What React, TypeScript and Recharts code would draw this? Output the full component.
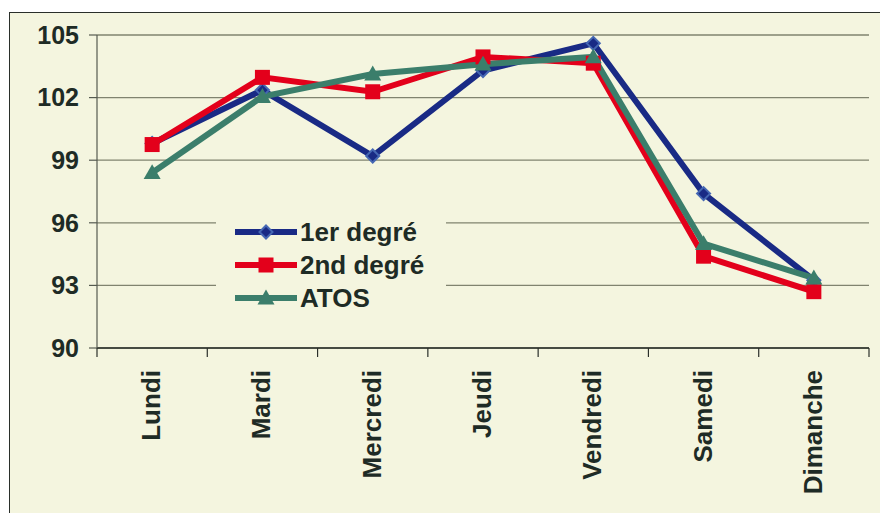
import React from 'react';
import { LineChart, Line, XAxis, YAxis, CartesianGrid, Legend } from 'recharts';

const days = ['Lundi', 'Mardi', 'Mercredi', 'Jeudi', 'Vendredi', 'Samedi', 'Dimanche'];
const premierDegre = [99.8, 102.36, 99.2, 103.3, 104.6, 97.4, 93.25];
const secondDegre = [99.75, 102.97, 102.28, 103.95, 103.65, 94.4, 92.7];
const atos = [98.4, 102.05, 103.13, 103.6, 103.95, 95.0, 93.35];
const yTicks = [90, 93, 96, 99, 102, 105];

const seriesNames = ['1er degré', '2nd degré', 'ATOS'];

const data = days.map((d, i) => ({
  day: d,
  s1: premierDegre[i],
  s2: secondDegre[i],
  s3: atos[i],
}));

const W = 880;
const H = 513;
const M_TOP = 35;
const M_RIGHT = 11;
const Y_W = 97;
const X_H = 165;
const PLOT_W = W - M_RIGHT - Y_W;
const BAND = PLOT_W / days.length;
const AXIS_Y = H - X_H;

const BG = '#F4F5DF';
const TEXT = '#1E2B25';
const FONT = '"Liberation Sans", Arial, sans-serif';
const NAVY = '#192a85';
const NAVY_EDGE = '#4567b3';
const RED = '#E3001B';
const GREEN = '#3B7E6B';
const GRID = '#80836f';
const AXIS = '#2a2f2a';

const Diamond = ({ cx, cy }: any) => {
  if (cx == null || cy == null) return null;
  const r = 6.5;
  return (
    <polygon
      points={`${cx},${cy - r} ${cx + r},${cy} ${cx},${cy + r} ${cx - r},${cy}`}
      fill={NAVY}
      stroke={NAVY_EDGE}
      strokeWidth={2}
    />
  );
};

const Square = ({ cx, cy }: any) => {
  if (cx == null || cy == null) return null;
  const r = 7.5;
  return <rect x={cx - r} y={cy - r} width={r * 2} height={r * 2} fill={RED} />;
};

const Triangle = ({ cx, cy }: any) => {
  if (cx == null || cy == null) return null;
  const r = 8.5;
  return (
    <polygon
      points={`${cx},${cy - r} ${cx + r},${cy + r * 0.75} ${cx - r},${cy + r * 0.75}`}
      fill={GREEN}
    />
  );
};

const markers = [Diamond, Square, Triangle];
const colors = [NAVY, RED, GREEN];

const XTick = (props: any) => {
  const { x, payload, index } = props;
  return (
    <g>
      <line x1={x - BAND / 2} x2={x - BAND / 2} y1={AXIS_Y} y2={AXIS_Y + 9} stroke={AXIS} strokeWidth={1.2} />
      {index === days.length - 1 && (
        <line x1={x + BAND / 2} x2={x + BAND / 2} y1={AXIS_Y} y2={AXIS_Y + 9} stroke={AXIS} strokeWidth={1.2} />
      )}
      <text
        transform={`translate(${x - 1},${AXIS_Y + 22}) rotate(-90)`}
        textAnchor="end"
        dominantBaseline="central"
        fill={TEXT}
        fontFamily={FONT}
        fontWeight="bold"
        fontSize={26}
      >
        {payload.value}
      </text>
    </g>
  );
};

const LegendContent = () => (
  <div style={{ background: BG, width: 230, height: 100, position: 'relative' }}>
    {seriesNames.map((name, i) => {
      const M = markers[i];
      return (
        <div
          key={name}
          style={{
            position: 'absolute',
            left: 19,
            top: 12 + i * 33,
            height: 30,
            display: 'flex',
            alignItems: 'center',
          }}
        >
          <svg width={62} height={20} style={{ display: 'block' }}>
            <line x1={0} x2={62} y1={10} y2={10} stroke={colors[i]} strokeWidth={6} />
            <M cx={31} cy={10} />
          </svg>
          <span
            style={{
              marginLeft: 3,
              fontFamily: FONT,
              fontWeight: 'bold',
              fontSize: 26,
              color: TEXT,
              whiteSpace: 'nowrap',
              lineHeight: '30px',
            }}
          >
            {name}
          </span>
        </div>
      );
    })}
  </div>
);

export default function App() {
  return (
    <div style={{ position: 'fixed', left: 0, top: 0, width: W, height: H, background: '#ffffff', overflow: 'hidden' }}>
      <div
        style={{
          position: 'absolute',
          left: 9,
          top: 12,
          width: 920,
          height: 540,
          border: `1.5px solid ${AXIS}`,
          background: BG,
          boxSizing: 'border-box',
        }}
      />
      <div style={{ position: 'absolute', left: 0, top: 0 }}>
        <LineChart width={W} height={H} data={data} margin={{ top: M_TOP, right: M_RIGHT, left: 0, bottom: 0 }}>
          <CartesianGrid vertical={false} stroke={GRID} strokeWidth={1.3} />
          <XAxis
            dataKey="day"
            scale="band"
            height={X_H}
            interval={0}
            tickLine={false}
            axisLine={{ stroke: AXIS, strokeWidth: 1.5 }}
            tick={<XTick />}
          />
          <YAxis
            width={Y_W}
            domain={[90, 105]}
            ticks={yTicks}
            interval={0}
            tickSize={8}
            tickMargin={10}
            axisLine={{ stroke: '#555a50', strokeWidth: 1.2 }}
            tickLine={{ stroke: '#555a50', strokeWidth: 1.2 }}
            tick={{ fill: TEXT, fontFamily: FONT, fontWeight: 'bold', fontSize: 25 }}
          />
          <Legend
            layout="vertical"
            align="center"
            verticalAlign="middle"
            content={<LegendContent />}
            wrapperStyle={{ left: 216, top: 205, width: 230, height: 100 }}
          />
          <Line dataKey="s1" name={seriesNames[0]} stroke={NAVY} strokeWidth={6} dot={<Diamond />} activeDot={false} isAnimationActive={false} />
          <Line dataKey="s2" name={seriesNames[1]} stroke={RED} strokeWidth={6} dot={<Square />} activeDot={false} isAnimationActive={false} />
          <Line dataKey="s3" name={seriesNames[2]} stroke={GREEN} strokeWidth={6} dot={<Triangle />} activeDot={false} isAnimationActive={false} />
        </LineChart>
      </div>
    </div>
  );
}
